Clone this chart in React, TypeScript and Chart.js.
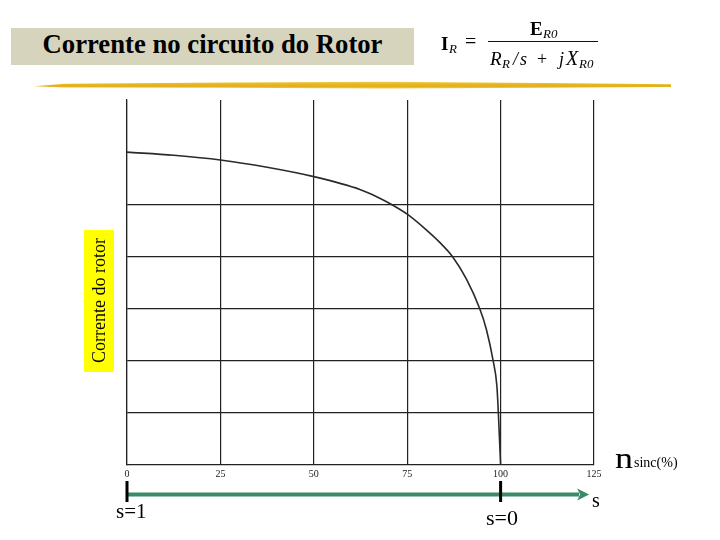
import React, { useEffect, useRef } from "react";
import { Chart, registerables } from "chart.js";

Chart.register(...registerables);

// Data
const speedPct = [0, 12.5, 25, 37.5, 50, 62.5, 66.7, 70.7, 75, 80.1, 83.7, 87.1, 90.9, 94.4, 96.2, 98.0, 99.0, 99.4, 100];
const rotorCurrent = [6.0, 5.94, 5.85, 5.71, 5.53, 5.28, 5.15, 5.0, 4.81, 4.51, 4.27, 4.0, 3.56, 3.0, 2.6, 2.0, 1.52, 1.0, 0];
const xTicks = [0, 25, 50, 75, 100, 125];
const yGridLines = [1, 2, 3, 4, 5];
const slipMarks = [0, 100]; // s=1 at 0 %, s=0 at 100 %
const arrowEndValue = 123.7;

const SERIF = "'Liberation Serif', 'Times New Roman', serif";

const slipArrowPlugin = {
  id: "slipArrow",
  afterDraw(chart: any) {
    const ctx = chart.ctx;
    const xs = chart.scales.x;
    const yLine = 494.5;
    const x0 = xs.getPixelForValue(0);
    const x1 = xs.getPixelForValue(arrowEndValue);
    ctx.save();
    ctx.strokeStyle = "#3b8a69";
    ctx.fillStyle = "#3b8a69";
    ctx.lineWidth = 4;
    ctx.beginPath();
    ctx.moveTo(x0, yLine);
    ctx.lineTo(x1 - 10, yLine);
    ctx.stroke();
    ctx.beginPath();
    ctx.moveTo(x1, yLine);
    ctx.lineTo(x1 - 12, yLine - 6);
    ctx.lineTo(x1 - 9, yLine);
    ctx.lineTo(x1 - 12, yLine + 6);
    ctx.closePath();
    ctx.fill();
    ctx.strokeStyle = "#000";
    ctx.lineWidth = 3;
    for (const v of slipMarks) {
      const px = xs.getPixelForValue(v);
      ctx.beginPath();
      ctx.moveTo(px, 481);
      ctx.lineTo(px, 502);
      ctx.stroke();
    }
    ctx.restore();
  },
};

export default function App() {
  const canvasRef = useRef<HTMLCanvasElement | null>(null);

  useEffect(() => {
    document.body.style.margin = "0";
    const canvas = canvasRef.current;
    if (!canvas) return;
    const chart = new Chart(canvas, {
      type: "scatter",
      data: {
        datasets: [
          {
            data: speedPct.map((x, i) => ({ x, y: rotorCurrent[i] })),
            showLine: true,
            borderColor: "#2a2a2a",
            borderWidth: 1.6,
            pointRadius: 0,
            cubicInterpolationMode: "monotone",
            fill: false,
          },
        ],
      },
      options: {
        responsive: false,
        animation: false,
        devicePixelRatio: 1,
        layout: { padding: { left: 127, right: 126, top: 100, bottom: 55 } },
        plugins: { legend: { display: false }, tooltip: { enabled: false } },
        scales: {
          x: {
            type: "linear",
            min: 0,
            max: 125,
            afterBuildTicks(scale: any) {
              scale.ticks = xTicks.map((v) => ({ value: v }));
            },
            afterFit(scale: any) {
              scale.height = 20;
            },
            grid: { color: "#222", lineWidth: 1.2, drawTicks: false },
            border: { display: true, color: "#222", width: 1.2 },
            ticks: {
              padding: 3,
              color: "#222",
              font: { family: SERIF, size: 10 },
            },
          },
          y: {
            type: "linear",
            min: 0,
            max: 7,
            afterBuildTicks(scale: any) {
              scale.ticks = [0, ...yGridLines, 6, 7].map((v) => ({ value: v }));
            },
            afterFit(scale: any) {
              scale.width = 0;
            },
            grid: {
              drawTicks: false,
              lineWidth: 1.2,
              color: (c: any) => (yGridLines.includes(c.tick?.value) ? "#222" : "rgba(0,0,0,0)"),
            },
            border: { display: true, color: "#222", width: 1.2 },
            ticks: { display: false },
          },
        },
      },
      plugins: [slipArrowPlugin],
    });
    return () => chart.destroy();
  }, []);

  const abs = (o: React.CSSProperties): React.CSSProperties => ({
    position: "absolute",
    fontFamily: SERIF,
    lineHeight: 1,
    whiteSpace: "nowrap",
    color: "#000",
    ...o,
  });

  return (
    <div style={{ position: "fixed", left: 0, top: 0, width: 720, height: 540, background: "#fff", overflow: "hidden" }}>
      <canvas ref={canvasRef} width={720} height={540} style={{ position: "absolute", left: 0, top: 0, width: 720, height: 540 }} />

      {/* Title box */}
      <div
        style={{
          position: "absolute",
          left: 11,
          top: 28,
          width: 403,
          height: 37,
          background: "#d7d4be",
          fontFamily: SERIF,
          fontWeight: "bold",
          fontSize: 26.7,
          lineHeight: "33px",
          textAlign: "center",
          color: "#000",
          whiteSpace: "nowrap",
        }}
      >
        Corrente no circuito do Rotor
      </div>

      {/* Formula */}
      <div style={abs({ left: 441, top: 34, fontSize: 19, fontWeight: "bold" })}>I</div>
      <div style={abs({ left: 449, top: 42, fontSize: 13, fontStyle: "italic" })}>R</div>
      <div style={abs({ left: 465, top: 31, fontSize: 20 })}>=</div>
      <div style={{ position: "absolute", left: 488, top: 41, width: 110, height: 1.3, background: "#111" }} />
      <div style={abs({ left: 530, top: 19, fontSize: 19, fontWeight: "bold" })}>E</div>
      <div style={abs({ left: 543, top: 27, fontSize: 13, fontStyle: "italic" })}>R0</div>
      <div style={abs({ left: 490, top: 49, fontSize: 19, fontStyle: "italic" })}>R</div>
      <div style={abs({ left: 502, top: 57, fontSize: 13, fontStyle: "italic" })}>R</div>
      <div style={abs({ left: 513, top: 50, fontSize: 18, fontStyle: "italic" })}>/</div>
      <div style={abs({ left: 520, top: 50, fontSize: 18, fontStyle: "italic" })}>s</div>
      <div style={abs({ left: 537, top: 50, fontSize: 18 })}>+</div>
      <div style={abs({ left: 559, top: 50, fontSize: 18, fontStyle: "italic" })}>j</div>
      <div style={abs({ left: 566, top: 48, fontSize: 20, fontStyle: "italic" })}>X</div>
      <div style={abs({ left: 579, top: 57, fontSize: 13, fontStyle: "italic" })}>R0</div>

      {/* Yellow brush stroke */}
      <div
        style={{
          position: "absolute",
          left: 34,
          top: 81,
          width: 637,
          height: 8,
          background: "linear-gradient(to bottom, #f4d660 0%, #e9b926 35%, #e2ad18 65%, #f2d458 100%)",
          clipPath: "polygon(0% 65%, 5% 35%, 30% 20%, 55% 10%, 80% 25%, 100% 40%, 100% 75%, 80% 85%, 55% 95%, 30% 85%, 5% 80%)",
        }}
      />

      {/* Y axis label */}
      <div
        style={{
          position: "absolute",
          left: 84,
          top: 230,
          width: 30,
          height: 142,
          background: "#ffff00",
          writingMode: "vertical-rl",
          transform: "rotate(180deg)",
          fontFamily: SERIF,
          fontSize: 18,
          lineHeight: "30px",
          textAlign: "center",
          color: "#000",
          whiteSpace: "nowrap",
        }}
      >
        Corrente do rotor
      </div>

      {/* x axis unit */}
      <div style={abs({ left: 615, top: 443, fontSize: 30, transform: "scaleX(1.2)", transformOrigin: "left center" })}>n</div>
      <div style={abs({ left: 634, top: 456, fontSize: 14 })}>sinc(%)</div>

      {/* slip labels */}
      <div style={abs({ left: 116, top: 501, fontSize: 21 })}>s=1</div>
      <div style={abs({ left: 486, top: 507, fontSize: 22 })}>s=0</div>
      <div style={abs({ left: 592, top: 490, fontSize: 20 })}>s</div>
    </div>
  );
}
